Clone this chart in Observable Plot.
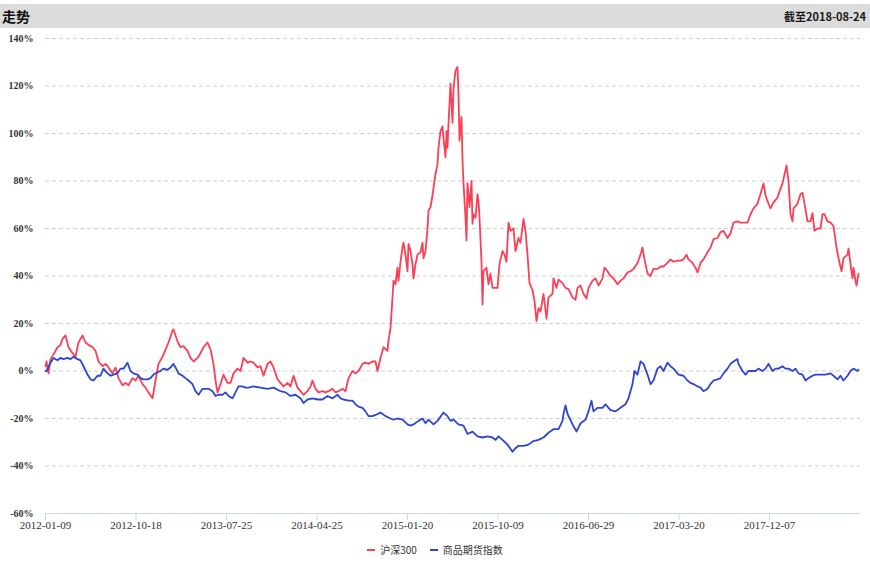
<!DOCTYPE html>
<html>
<head>
<meta charset="utf-8">
<script src="https://cdn.jsdelivr.net/npm/d3@7"></script>
<script src="https://cdn.jsdelivr.net/npm/@observablehq/plot@0.6"></script>
<style>
  html, body { margin: 0; padding: 0; background: #fff; }
  body { width: 870px; font-family: "Noto Sans CJK SC", "Noto Sans", sans-serif; }
  #hdr { margin-top: 4px; height: 24px; background: #dcdcdc; display: flex; justify-content: space-between; align-items: center; padding: 0 4px 0 2px; box-sizing: border-box; }
  #title { font-size: 14px; font-weight: bold; color: #111; }
  #asof { font-size: 11px; color: #1a1a1a; font-weight: bold; }
  #chart svg { display: block; }
  #legend { display: flex; justify-content: center; align-items: center; gap: 13px; font-size: 10px; color: #333; margin-top: 9px; font-family: "Noto Sans CJK SC", serif; }
  .item { display: flex; align-items: center; gap: 5px; }
  .sw { width: 8px; height: 2px; display: inline-block; }
</style>
</head>
<body>
<div id="hdr"><span id="title">走势</span><span id="asof">截至2018-08-24</span></div>
<div id="chart"></div>
<div id="legend"></div>
<script>
// Series names & colours
const seriesNames = ["沪深300", "商品期货指数"];
const seriesColors = ["#fa3f56", "#2d45d2"];

// x: trading-day index since 2012-01-09; y: cumulative return (%)
const hs300 = [
[0,2],[2,4],[6,-1],[10,5],[16,7],[24,10],[30,11],[34,13.5],[40,15],[46,10],[54,7.5],[60,6],[66,12],[74,15],[80,12],[86,11],[94,10],[100,8.5],[106,4],[114,2],[120,3],[126,1.5],[134,-1],[140,1.5],[146,-3],[154,-6],[160,-5],[166,-6],[174,-3],[180,-4],[186,-2],[194,-5.5],[200,-7],[206,-9],[214,-11.5],[220,-4],[226,3],[234,6],[240,9],[246,12],[254,17],[256,17.5],[264,12.5],[270,10],[276,10.5],[284,8.5],[290,5.5],[296,4],[304,5.5],[310,7.5],[316,10],[324,12],[330,9],[336,3],[340,-4],[344,-9],[350,-5.5],[356,-1.5],[364,-5],[370,-5],[376,-1],[384,1],[390,0],[396,5.5],[404,3.5],[410,4],[416,3.5],[424,1.5],[430,2],[436,-2],[444,3],[450,4],[456,1.5],[464,-3.5],[470,-5],[476,-6.5],[484,-5],[490,-6.5],[496,-2],[504,-7],[510,-8.5],[516,-10],[524,-8.5],[530,-6.5],[534,-4],[540,-7.5],[546,-9],[554,-8.5],[560,-9],[566,-8.5],[574,-7.5],[580,-9],[586,-8.5],[594,-7.5],[600,-8.5],[606,-3],[614,0],[620,-1],[626,0],[634,3],[640,3.5],[646,3],[654,4],[660,4],[664,0],[670,5.5],[676,10],[684,8.5],[686,13],[690,18],[694,31],[696,38],[700,36.5],[704,43.5],[706,38],[710,46],[714,52],[716,54],[720,49],[724,42],[726,53.5],[730,50.5],[734,45],[736,39],[740,45],[744,49],[750,50],[754,54],[756,47.5],[760,50.5],[764,60],[766,67.5],[770,69],[774,74],[776,77],[780,83],[784,87],[786,94],[790,101],[794,103],[796,98],[800,90],[802,101],[804,94],[806,104],[810,121],[814,104.5],[816,119],[820,126.5],[824,128],[826,117],[828,97],[832,107],[834,88.5],[836,79],[840,64.5],[842,55],[844,79],[848,69],[852,80],[854,62],[856,66],[860,64.5],[864,74.5],[866,71.5],[868,64.5],[872,46],[874,28],[876,42],[882,43.5],[886,36.5],[890,41],[894,35],[898,35],[904,35],[908,45],[914,50.5],[918,49],[922,46],[926,62.5],[930,59],[936,60],[940,50.5],[946,56],[950,54],[956,64],[960,59],[964,49],[968,37],[974,34],[978,29.5],[982,21],[986,26.5],[990,25],[996,32.5],[1002,22],[1006,31],[1014,32.5],[1016,39],[1022,35],[1026,38.5],[1034,37],[1040,35],[1046,34.5],[1054,31],[1060,30],[1064,35],[1070,36],[1076,32.5],[1082,30.5],[1086,35],[1094,38],[1100,39],[1106,36],[1114,39],[1118,43.5],[1124,42],[1130,40],[1136,39],[1144,36.5],[1150,38],[1156,39],[1164,41.5],[1170,42],[1176,43],[1184,45.5],[1190,49],[1194,52],[1198,47],[1204,41],[1210,40],[1216,43],[1224,43],[1230,44],[1236,44],[1244,45.5],[1250,47],[1256,46],[1264,46.5],[1270,46.5],[1276,47],[1282,49],[1286,47],[1294,45.5],[1300,43.5],[1304,41.5],[1310,45.5],[1316,47],[1324,50],[1330,52],[1336,55.5],[1344,56],[1350,58.5],[1356,59],[1364,56],[1370,58],[1376,62.5],[1384,63],[1390,62.5],[1396,62.5],[1404,62.5],[1410,66],[1416,68.5],[1424,70.5],[1430,74.5],[1436,79],[1440,74],[1444,71.5],[1450,68.5],[1456,71],[1464,73],[1466,74.5],[1474,79],[1482,86.5],[1486,80],[1490,66],[1494,63],[1496,68.5],[1504,70.5],[1510,74.5],[1514,75],[1518,70.5],[1524,63],[1530,63],[1534,66.5],[1538,59],[1544,60],[1550,60],[1554,66],[1558,66],[1564,63],[1570,62.5],[1576,61],[1582,52],[1586,47.5],[1592,42],[1596,47.5],[1604,49],[1606,51.5],[1610,45],[1614,39],[1616,43.5],[1620,38],[1622,36],[1626,41]
];

const commodity = [
[0,0],[2,0],[10,3.5],[16,5.5],[24,4.5],[30,5.5],[36,5],[44,5.5],[50,5],[56,6],[64,5],[70,4.5],[76,2],[84,-1.5],[90,-3.5],[96,-4],[104,-2],[110,-2],[116,1],[124,-1],[130,-2],[136,-1.5],[144,-1],[150,1],[156,1],[164,3.5],[170,0],[176,-1],[184,-1.5],[190,-3],[196,-3.5],[204,-3.5],[210,-3],[216,-1.5],[224,-0.5],[230,0],[236,1],[244,0.5],[250,1.5],[256,3],[260,1.5],[266,-1],[274,-2],[280,-3],[286,-4],[294,-5.5],[300,-8.5],[306,-10],[314,-7.5],[320,-7.5],[326,-7.5],[334,-8.5],[340,-10.5],[346,-10],[354,-10],[360,-9],[366,-10.5],[374,-11.5],[380,-9],[386,-6.5],[394,-6.5],[400,-7],[406,-7],[416,-6.5],[430,-7],[444,-7.5],[456,-7],[470,-8.5],[480,-9],[490,-10.5],[500,-10],[510,-11.5],[516,-13.5],[524,-12],[534,-11.5],[544,-12],[554,-12],[564,-10.5],[574,-11.5],[584,-10],[590,-11.5],[596,-12],[606,-12.5],[614,-12.5],[620,-14],[626,-15],[634,-15.5],[640,-17],[646,-19],[654,-19],[660,-18.5],[670,-17.5],[680,-19],[690,-20],[696,-20.5],[704,-20],[714,-20.5],[724,-22.5],[730,-23],[736,-22.5],[746,-21],[754,-20],[760,-22],[766,-20.5],[776,-22.5],[784,-21],[796,-17.5],[804,-19],[810,-21],[816,-20.5],[826,-22.5],[836,-23],[844,-26.5],[854,-25.5],[864,-27.5],[874,-28],[884,-27.5],[894,-28],[900,-29],[906,-27.5],[914,-29],[924,-31],[934,-34],[940,-32.5],[946,-31.5],[956,-31.5],[966,-31],[976,-29.5],[986,-29],[996,-28],[1006,-26],[1016,-24.5],[1026,-24.5],[1034,-21],[1036,-18],[1040,-14.5],[1044,-18],[1054,-22.5],[1062,-25.5],[1070,-22],[1080,-20.5],[1086,-17],[1092,-12.5],[1096,-17],[1104,-15.5],[1114,-15.5],[1120,-14],[1130,-16.5],[1140,-17],[1150,-15.5],[1160,-14],[1166,-11.5],[1174,-5.5],[1178,0],[1184,-1.5],[1190,4],[1196,3],[1204,-1.5],[1210,-5.5],[1216,-4],[1224,1],[1230,2],[1236,0],[1244,3.5],[1250,2],[1256,1],[1266,-1.5],[1276,-2],[1284,-4],[1290,-5],[1296,-5.5],[1304,-6.5],[1310,-7],[1316,-8.5],[1324,-7.5],[1330,-5.5],[1336,-4],[1344,-3.5],[1350,-3],[1356,-1],[1364,1],[1370,3],[1376,4],[1384,5],[1386,3],[1394,0],[1400,-1.5],[1406,0],[1414,0],[1420,0],[1426,1],[1434,0],[1440,1],[1446,3],[1454,0],[1460,1],[1466,1],[1474,2],[1480,1],[1486,1],[1494,0],[1500,1],[1506,-1],[1514,-1.5],[1520,-4],[1526,-3],[1534,-2],[1540,-1.5],[1550,-1.5],[1560,-1.5],[1570,-1],[1576,-2],[1584,-3.5],[1590,-2],[1596,-4],[1604,-2],[1610,0],[1616,1],[1624,0],[1626,0.5]
];

// Axis ticks
const yTicks = [-60, -40, -20, 0, 20, 40, 60, 80, 100, 120, 140];
const xTickDays = [0, 181, 362, 543, 724, 905, 1086, 1267, 1448];
const xTickLabels = ["2012-01-09","2012-10-18","2013-07-25","2014-04-25","2015-01-20","2015-10-09","2016-06-29","2017-03-20","2017-12-07"];
const xLabelMap = new Map(xTickDays.map((d, i) => [d, xTickLabels[i]]));

const serif = "'Liberation Serif', 'DejaVu Serif', serif";

const chart = Plot.plot({
  width: 870,
  height: 505,
  marginLeft: 45,
  marginRight: 10,
  marginTop: 10,
  marginBottom: 20,
  x: {domain: [0, 1630], axis: null},
  y: {domain: [-60, 140], axis: null},
  style: {background: "transparent", fontFamily: serif},
  marks: [
    Plot.ruleY(yTicks.filter(d => d > -60), {stroke: "#cfcfcf", strokeDasharray: "4,3", strokeWidth: 1}),
    Plot.axisY(yTicks, {tickSize: 0, tickPadding: 12, tickFormat: d => d + "%", fontSize: 10, fill: "#333", fontWeight: "bold", fontFamily: serif}),
    Plot.ruleY([-60], {stroke: "#ccd6eb", strokeWidth: 1}),
    Plot.axisX(xTickDays, {tickSize: 7, stroke: "#ccd6eb", tickPadding: 1, tickFormat: d => xLabelMap.get(d), fontSize: 11, fill: "#333", fontFamily: serif}),
    Plot.line(hs300, {x: d => d[0], y: d => d[1], stroke: seriesColors[0], strokeWidth: 1.8}),
    Plot.line(commodity, {x: d => d[0], y: d => d[1], stroke: seriesColors[1], strokeWidth: 1.8})
  ]
});
document.getElementById("chart").append(chart);

const legend = document.getElementById("legend");
seriesNames.forEach((name, i) => {
  const item = document.createElement("span");
  item.className = "item";
  const sw = document.createElement("span");
  sw.className = "sw";
  sw.style.background = seriesColors[i];
  const label = document.createElement("span");
  label.textContent = name;
  item.append(sw, label);
  legend.append(item);
});
</script>
</body>
</html>
